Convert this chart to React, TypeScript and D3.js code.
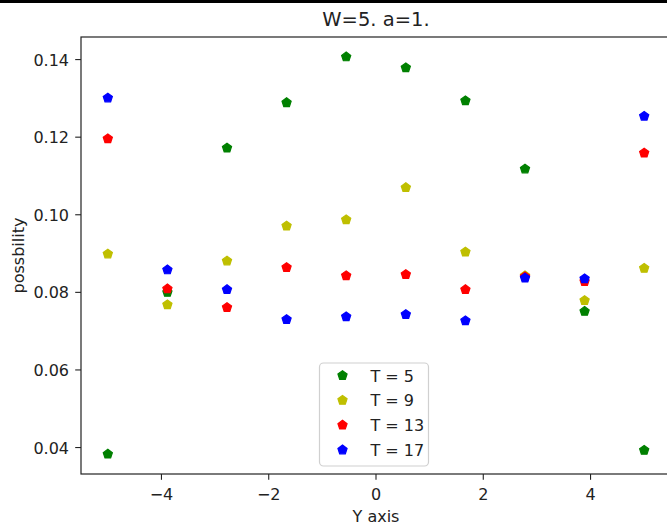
import React from 'react';
import * as d3 from 'd3';

const xValues = [-5, -3.889, -2.778, -1.667, -0.556, 0.556, 1.667, 2.778, 3.889, 5];
const seriesT5 = [0.0383, 0.0800, 0.1172, 0.1289, 0.1407, 0.1379, 0.1294, 0.1118, 0.0751, 0.0393];
const seriesT9 = [0.0899, 0.0768, 0.0881, 0.0971, 0.0987, 0.1070, 0.0904, 0.0843, 0.0779, 0.0862];
const seriesT13 = [0.1196, 0.0809, 0.0761, 0.0864, 0.0843, 0.0846, 0.0807, 0.0840, 0.0828, 0.1159];
const seriesT17 = [0.1301, 0.0858, 0.0807, 0.0730, 0.0737, 0.0743, 0.0727, 0.0837, 0.0835, 0.1254];
const seriesLabels = ['T = 5', 'T = 9', 'T = 13', 'T = 17'];
const seriesColors = ['#008000', '#bfbf00', '#ff0000', '#0000ff'];
const xTicks = [-4, -2, 0, 2, 4];
const yTicks = [0.04, 0.06, 0.08, 0.10, 0.12, 0.14];
const titleText = 'W=5. a=1.';
const xLabel = 'Y axis';
const yLabel = 'possbility';

const W = 667;
const H = 530;
const left = 81;
const right = 671;
const top = 37;
const bottom = 474;
const font = 'DejaVu Sans, sans-serif';

function pentagon(cx: number, cy: number, r: number): string {
  const pts: [number, number][] = [];
  for (let k = 0; k < 5; k++) {
    const a = (-90 + 72 * k) * Math.PI / 180;
    pts.push([cx + r * Math.cos(a), cy + r * Math.sin(a)]);
  }
  return 'M' + pts.map(p => p[0].toFixed(2) + ',' + p[1].toFixed(2)).join('L') + 'Z';
}

const fmtX = (v: number) => (v < 0 ? '\u2212' + Math.abs(v) : String(v));

export default function App() {
  const series = [seriesT5, seriesT9, seriesT13, seriesT17];
  const xs = d3.scaleLinear().domain([-5.5, 5.5]).range([left, right]);
  const all = series.flat();
  const [mn, mx] = d3.extent(all) as [number, number];
  const pad = (mx - mn) * 0.05;
  const ys = d3.scaleLinear().domain([mn - pad, mx + pad]).range([bottom, top]);

  const legW = 109;
  const legH = 103;
  const legX = (left + right) / 2 - legW / 2 - 2;
  const legY = bottom - 8 - legH;
  const rowH = 24.8;

  return (
    <svg width={W} height={H} style={{ position: 'absolute', left: 0, top: 0, background: '#fff' }}
      fontFamily={font}>
      <rect x={0} y={0} width={W} height={H} fill="#fff" />
      <rect x={0} y={0} width={W} height={3} fill="#000" />
      <text x={376} y={26} textAnchor="middle" fontSize={19.5} fill="#222">{titleText}</text>

      {series.map((s, i) => (
        <g key={i} fill={seriesColors[i]} stroke={seriesColors[i]} strokeWidth={1.2}>
          {s.map((v, j) => (
            <path key={j} d={pentagon(xs(xValues[j]), ys(v), 4.8)} />
          ))}
        </g>
      ))}

      <rect x={left} y={top} width={right - left} height={bottom - top} fill="none" stroke="#222" strokeWidth={1.2} />

      {xTicks.map(t => (
        <g key={t}>
          <line x1={xs(t)} x2={xs(t)} y1={bottom} y2={bottom + 5.8} stroke="#222" strokeWidth={1.1} />
          <text x={xs(t)} y={500} textAnchor="middle" fontSize={16} fill="#222">{fmtX(t)}</text>
        </g>
      ))}
      {yTicks.map(t => (
        <g key={t}>
          <line x1={left - 5.8} x2={left} y1={ys(t)} y2={ys(t)} stroke="#222" strokeWidth={1.1} />
          <text x={69} y={ys(t) + 6} textAnchor="end" fontSize={16} fill="#222">{t.toFixed(2)}</text>
        </g>
      ))}

      <text x={376} y={522} textAnchor="middle" fontSize={16} fill="#222">{xLabel}</text>
      <text transform={`translate(24,${(top + bottom) / 2}) rotate(-90)`} textAnchor="middle" fontSize={16} fill="#222">{yLabel}</text>

      <rect x={legX} y={legY} width={legW} height={legH} rx={4} ry={4} fill="#fff" fillOpacity={0.8} stroke="#d0d0d0" strokeWidth={1.2} />
      {seriesLabels.map((lab, i) => {
        const cy = legY + 12.5 + i * rowH;
        return (
          <g key={lab}>
            <path d={pentagon(legX + 23, cy, 4.8)} fill={seriesColors[i]} stroke={seriesColors[i]} strokeWidth={1.2} />
            <text x={legX + 51} y={cy + 6} fontSize={16} fill="#222">{lab}</text>
          </g>
        );
      })}
    </svg>
  );
}
